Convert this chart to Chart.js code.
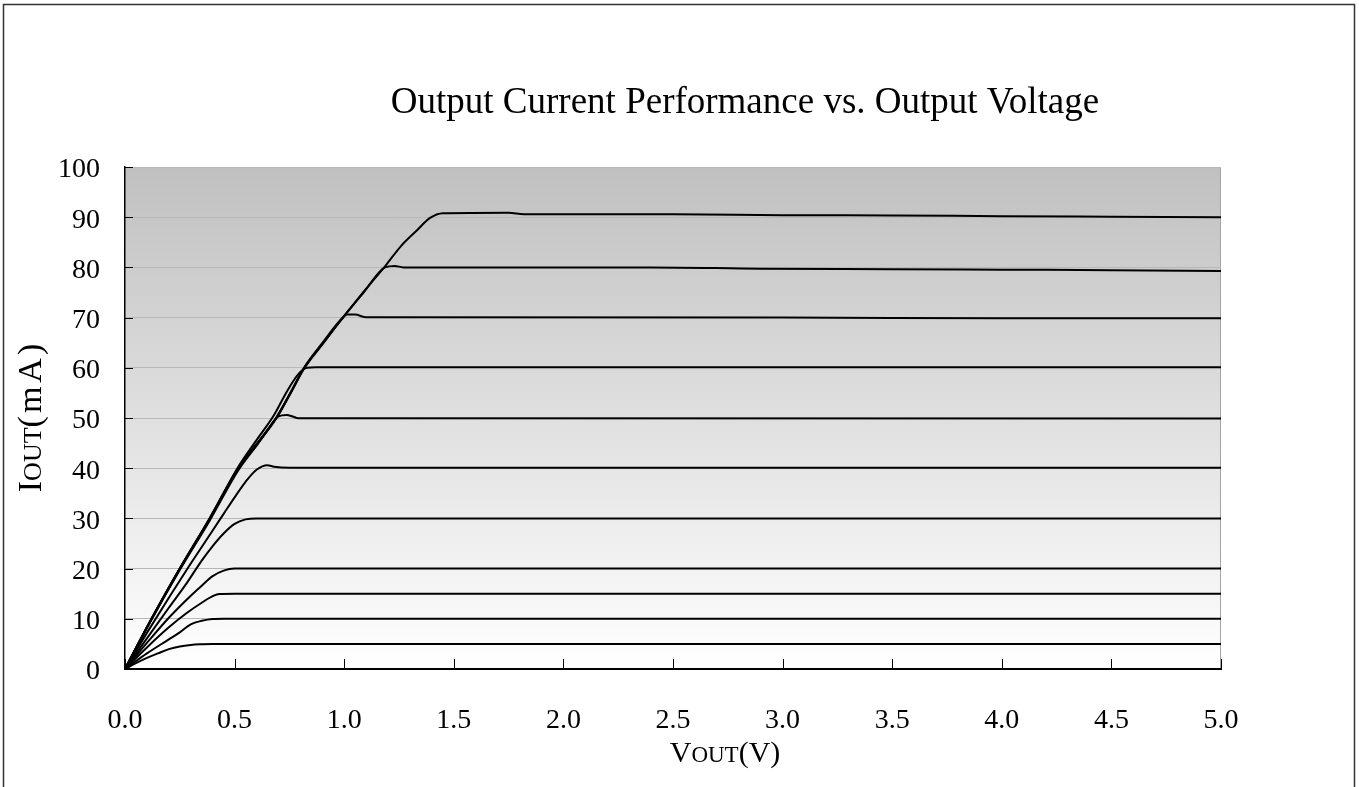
<!DOCTYPE html>
<html>
<head>
<meta charset="utf-8">
<script src="https://cdn.jsdelivr.net/npm/chart.js@4/dist/chart.umd.min.js"></script>
<style>
  html, body { margin: 0; padding: 0; background: #ffffff; }
  canvas { display: block; }
</style>
</head>
<body>
<canvas id="chart" width="1359" height="787"></canvas>
<script>
// Output current (mA) versus output voltage (V), one curve per set current.
const chartTitle = 'Output Current Performance vs. Output Voltage';
const xTickValues = [0, 0.5, 1, 1.5, 2, 2.5, 3, 3.5, 4, 4.5, 5];
const yTickValues = [0, 10, 20, 30, 40, 50, 60, 70, 80, 90, 100];

const curve5mA  = [[0,0],[0.05,1.15],[0.1,2.2],[0.15,3.1],[0.2,3.95],[0.25,4.5],[0.3,4.8],[0.35,4.93],[0.4,5.0],[5,5.0]];
const curve10mA = [[0,0],[0.1,3.1],[0.2,5.9],[0.25,7.3],[0.3,8.9],[0.35,9.6],[0.4,9.95],[0.45,10],[5,10]];
const curve15mA = [[0,0],[0.1,4.3],[0.2,8.3],[0.28,11.1],[0.35,13.2],[0.4,14.5],[0.43,14.95],[0.5,15],[5,15]];
const curve20mA = [[0,0],[0.1,5.2],[0.2,10.2],[0.3,14.6],[0.35,16.6],[0.4,18.5],[0.45,19.6],[0.5,20],[5,20]];
const curve30mA = [[0,0],[0.1,6.1],[0.2,12.2],[0.28,17],[0.35,21.6],[0.4,24.5],[0.45,27],[0.5,28.9],[0.55,29.8],[0.6,30],[5,30]];
const curve40mA = [[0,0],[0.1,7.2],[0.2,14.2],[0.3,21],[0.4,27.6],[0.45,30.9],[0.5,34.2],[0.55,37.3],[0.6,39.7],[0.65,40.6],[0.68,40.3],[0.75,40.1],[5,40.1]];
const curve50mA = [[0,0],[0.122,9.9],[0.251,19.8],[0.388,29.7],[0.517,39.6],[0.605,44.8],[0.65,47.6],[0.7,50.3],[0.738,50.6],[0.765,50.3],[0.79,49.95],[5,49.9]];
const curve60mA = [[0,0],[0.122,10.1],[0.251,20.1],[0.388,30.2],[0.517,40.3],[0.6,45.6],[0.68,50.6],[0.74,55.4],[0.79,58.7],[0.83,60.0],[0.87,60.1],[5,60.1]];
const curve70mA = [[0,0],[0.122,10],[0.251,20],[0.388,30],[0.517,40.1],[0.605,45.1],[0.69,50.1],[0.755,55.1],[0.818,60.1],[0.905,65.2],[0.98,69.4],[1.015,70.6],[1.05,70.6],[1.1,70.05],[3,70.0],[4,69.85],[5,69.85]];
const curve80mA = [[0,0],[0.122,10],[0.251,20],[0.388,29.9],[0.517,39.9],[0.605,44.9],[0.69,49.9],[0.755,54.9],[0.818,59.9],[0.905,64.9],[0.995,70.1],[1.09,75.1],[1.186,80],[1.23,80.3],[1.27,80.0],[2.4,80],[2.9,79.75],[3.5,79.65],[4,79.55],[4.5,79.45],[5,79.3]];
const curve90mA = [[0,0],[0.122,10.1],[0.251,20.1],[0.388,30.1],[0.517,40],[0.605,45],[0.69,50],[0.755,55],[0.818,60],[0.905,65],[0.995,70],[1.09,75.2],[1.186,80.2],[1.26,84.3],[1.33,87.3],[1.39,89.8],[1.45,90.8],[1.75,90.9],[1.82,90.6],[2.5,90.6],[3,90.4],[3.5,90.35],[4,90.2],[4.5,90.1],[5,90.0]];

const curves = [curve5mA, curve10mA, curve15mA, curve20mA, curve30mA, curve40mA,
                curve50mA, curve60mA, curve70mA, curve80mA, curve90mA];

const SERIF = "'Liberation Serif', 'Times New Roman', serif";

// Draws text made of pieces with their own sizes (used for the small-caps "OUT" subscripts).
function drawPieces(ctx, pieces, cx, y) {
  let total = 0;
  const widths = pieces.map(p => {
    ctx.font = p.size + 'px ' + SERIF;
    const w = ctx.measureText(p.text).width + (p.gap || 0);
    total += w;
    return w;
  });
  let x = cx - total / 2;
  pieces.forEach((p, i) => {
    ctx.font = p.size + 'px ' + SERIF;
    ctx.fillText(p.text, x, y);
    x += widths[i];
  });
}

const decorations = {
  id: 'decorations',
  beforeDraw(chart) {
    const { ctx, chartArea: a } = chart;
    ctx.save();
    const g = ctx.createLinearGradient(0, a.top, 0, a.bottom);
    g.addColorStop(0, '#c0c0c0');
    g.addColorStop(1, '#ffffff');
    ctx.fillStyle = g;
    ctx.fillRect(a.left, a.top, a.right - a.left, a.bottom - a.top);
    ctx.strokeStyle = '#a4a4a4';
    ctx.lineWidth = 1;
    ctx.beginPath();
    ctx.moveTo(a.left, a.top + 0.5);
    ctx.lineTo(a.right - 0.5, a.top + 0.5);
    ctx.lineTo(a.right - 0.5, a.bottom);
    ctx.stroke();
    ctx.restore();
  },
  afterDraw(chart) {
    const { ctx, chartArea: a, scales } = chart;
    ctx.save();
    // inward tick marks
    ctx.strokeStyle = '#000';
    ctx.lineWidth = 1;
    ctx.beginPath();
    scales.x.ticks.forEach(t => {
      const px = Math.round(scales.x.getPixelForValue(t.value)) + 0.5;
      ctx.moveTo(px, a.bottom);
      ctx.lineTo(px, a.bottom - 10);
    });
    scales.y.ticks.forEach(t => {
      const py = Math.round(scales.y.getPixelForValue(t.value)) + 0.5;
      ctx.moveTo(a.left, py);
      ctx.lineTo(a.left + 8, py);
    });
    ctx.stroke();

    // chart title
    ctx.fillStyle = '#000';
    ctx.textBaseline = 'alphabetic';
    ctx.textAlign = 'left';
    ctx.font = '37px ' + SERIF;
    const tw = ctx.measureText(chartTitle).width;
    ctx.fillText(chartTitle, 745 - tw / 2, 113);

    // x axis title
    drawPieces(ctx, [
      { text: 'V', size: 30 },
      { text: 'OUT', size: 23 },
      { text: '(V)', size: 30 }
    ], 725, 762);

    // y axis title
    ctx.save();
    ctx.translate(41, 418);
    ctx.rotate(-Math.PI / 2);
    drawPieces(ctx, [
      { text: 'I', size: 34 },
      { text: 'OUT', size: 26 },
      { text: '(', size: 34, gap: 3 },
      { text: 'm', size: 34, gap: 4 },
      { text: 'A', size: 34, gap: 3 },
      { text: ')', size: 34 }
    ], 0, 0);
    ctx.restore();

    // outer frame
    ctx.strokeStyle = '#333';
    ctx.lineWidth = 1.5;
    ctx.strokeRect(3.5, 4.5, 1351, 900);
    ctx.restore();
  }
};

new Chart(document.getElementById('chart'), {
  type: 'line',
  data: {
    datasets: curves.map(c => ({
      data: c.map(([v, i]) => ({ x: v, y: i })),
      borderColor: '#000',
      borderWidth: 2,
      pointRadius: 0,
      fill: false,
      cubicInterpolationMode: 'monotone'
    }))
  },
  options: {
    responsive: false,
    animation: false,
    devicePixelRatio: 1,
    layout: { padding: { top: 167, right: 138, bottom: 0, left: 0 } },
    plugins: {
      legend: { display: false },
      tooltip: { enabled: false },
      title: { display: false }
    },
    scales: {
      x: {
        type: 'linear',
        min: 0,
        max: 5,
        afterBuildTicks: s => { s.ticks = xTickValues.map(v => ({ value: v })); },
        afterFit: s => { s.height = 118; },
        grid: { drawOnChartArea: false, drawTicks: false },
        border: { display: true, color: '#000', width: 2 },
        ticks: {
          padding: 35,
          color: '#000',
          font: { family: SERIF, size: 28 },
          maxRotation: 0,
          autoSkip: false,
          callback: v => v.toFixed(1)
        }
      },
      y: {
        type: 'linear',
        min: 0,
        max: 100,
        afterBuildTicks: s => { s.ticks = yTickValues.map(v => ({ value: v })); },
        afterFit: s => { s.width = 125; },
        grid: {
          drawTicks: false,
          lineWidth: 1,
          color: c => (c.tick && c.tick.value === 0) ? 'rgba(0,0,0,0)' : '#b8b8b8'
        },
        border: { display: true, color: '#000', width: 1.5 },
        ticks: {
          padding: 25,
          labelOffset: 3,
          color: '#000',
          font: { family: SERIF, size: 28 },
          autoSkip: false,
          callback: v => String(v)
        }
      }
    }
  },
  plugins: [decorations]
});
</script>
</body>
</html>
